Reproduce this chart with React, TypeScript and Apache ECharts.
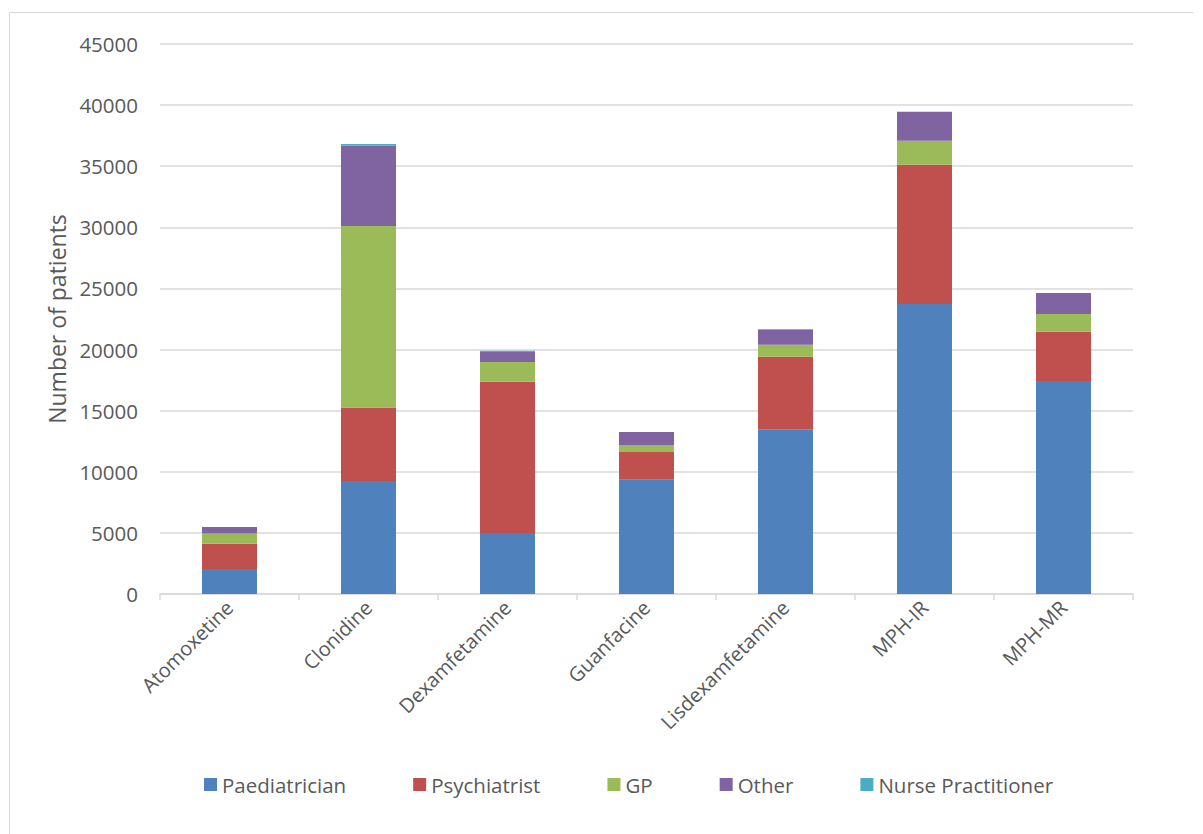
import React, { useEffect, useRef } from "react";
import * as echarts from "echarts";

const categories = ["Atomoxetine", "Clonidine", "Dexamfetamine", "Guanfacine", "Lisdexamfetamine", "MPH-IR", "MPH-MR"];
const paediatrician = [2050, 9250, 5000, 9350, 13470, 23720, 17420];
const psychiatrist = [2070, 6000, 12370, 2270, 5940, 11400, 4040];
const gp = [840, 14850, 1610, 570, 980, 1960, 1440];
const other = [520, 6600, 880, 1060, 1260, 2370, 1720];
const nursePractitioner = [0, 120, 50, 0, 40, 0, 0];

const seriesNames = ["Paediatrician", "Psychiatrist", "GP", "Other", "Nurse Practitioner"];
const seriesData = [paediatrician, psychiatrist, gp, other, nursePractitioner];
const colors = ["#4f81bd", "#c0504d", "#9bbb59", "#8064a2", "#4bacc6"];

const FONT = "'Open Sans', sans-serif";
const TEXT = "#595959";

export default function App() {
  const ref = useRef<HTMLDivElement>(null);
  useEffect(() => {
    if (!ref.current) return;
    const chart = echarts.init(ref.current, null, { renderer: "svg" });
    chart.setOption({
      animation: false,
      backgroundColor: "#ffffff",
      color: colors,
      textStyle: { fontFamily: FONT, color: TEXT },
      graphic: [
        {
          type: "polyline",
          shape: { points: [[9.5, 834], [9.5, 12.5], [1193.5, 12.5]] },
          style: { stroke: "#d9d9d9", lineWidth: 1, fill: null },
          silent: true,
        },
      ],
      grid: { left: 160, right: 70, top: 44, bottom: 240, containLabel: false },
      legend: {
        bottom: 34,
        left: 199,
        itemWidth: 13,
        itemHeight: 13,
        itemGap: 67,
        icon: "rect",
        textStyle: { fontFamily: FONT, fontSize: 20.5, color: TEXT, padding: [0, 0, 0, 0] },
        data: seriesNames,
      },
      xAxis: {
        type: "category",
        data: categories,
        axisLine: { lineStyle: { color: "#d9d9d9", width: 1.5 } },
        axisTick: { show: true, length: 6, lineStyle: { color: "#d9d9d9", width: 1.5 } },
        axisLabel: { rotate: 45, fontFamily: FONT, fontSize: 20, color: TEXT, margin: 10, interval: 0 },
      },
      yAxis: {
        type: "value",
        min: 0,
        max: 45000,
        interval: 5000,
        name: "Number of patients",
        nameLocation: "middle",
        nameGap: 92,
        nameTextStyle: { fontFamily: FONT, fontSize: 23, color: TEXT },
        axisLine: { show: false },
        axisTick: { show: false },
        axisLabel: { fontFamily: FONT, fontSize: 20.5, color: TEXT, margin: 22, formatter: (v: number) => String(v) },
        splitLine: { lineStyle: { color: "#d9d9d9", width: 1.5 } },
      },
      series: seriesNames.map((name, i) => ({
        name,
        type: "bar",
        stack: "total",
        barWidth: 55,
        data: seriesData[i],
        itemStyle: { color: colors[i] },
      })),
    });
    return () => chart.dispose();
  }, []);
  return (
    <div
      ref={ref}
      style={{ position: "fixed", left: 0, top: 0, width: 1203, height: 834 }}
    />
  );
}
